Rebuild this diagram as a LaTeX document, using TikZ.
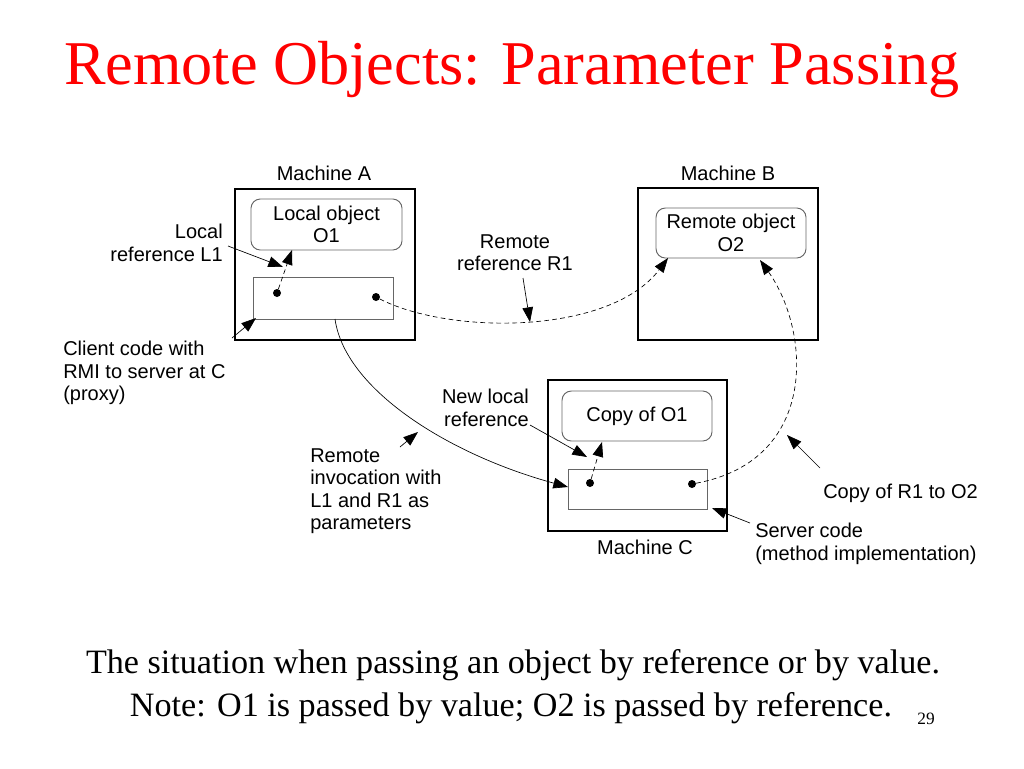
\documentclass[tikz,border=0pt]{standalone}
\usepackage{fontspec}
\setmainfont{Liberation Serif}
\newfontfamily\arial{Liberation Sans}
\usetikzlibrary{arrows.meta,fit}
\begin{document}
\begin{tikzpicture}[x=0.75pt,y=-0.75pt,
  machine/.style={draw, line width=2.2pt, inner sep=0pt},
  objbox/.style={draw=black!60, rounded corners=7pt, line width=0.7pt, inner sep=0pt, align=center},
  codebox/.style={draw=black!60, line width=0.7pt, inner sep=0pt},
  lbl/.style={font=\arial\fontsize{15}{16.8}\selectfont, inner sep=0pt},
  refdot/.style={circle, fill=black, inner sep=0pt, minimum size=6pt},
  tipped/.style={-{Triangle[length=11pt,width=8pt]}},
  ptr/.style={tipped, dash pattern=on 3.5pt off 2.5pt, line width=0.5pt},
  call/.style={tipped, line width=0.5pt},
  note/.style={tipped, line width=0.5pt},
]
\useasboundingbox (0,0) rectangle (1024,768);

% title and caption
\node[text=red, font=\fontsize{46.7}{52}\selectfont, inner sep=0pt] (title) at (512,70) {Remote Objects: Parameter Passing};
\node[font=\fontsize{25.6}{30}\selectfont, inner sep=0pt] (cap1) at (513,665) {The situation when passing an object by reference or by value.};
\node[font=\fontsize{25.6}{30}\selectfont, inner sep=0pt] (cap2) at (511,708) {Note: O1 is passed by value; O2 is passed by reference.};
\node[font=\fontsize{13}{15}\selectfont, inner sep=0pt] (pgno) at (926,719) {29};

% machine A
\node[machine, fit={(235,189) (415,340)}] (mA) {};
\node[objbox, fit={(251,199) (402,250)}] (o1) {};
\node[lbl, align=center] (o1t) at (o1.center) {Local object\\O1};
\node[codebox, fit={(253,277) (393,319)}] (cA) {};
\node[refdot] (dA1) at (277,293) {};
\node[refdot] (dA2) at (376,297) {};
\node[lbl] (mAl) at (324,173) {Machine A};

% machine B
\node[machine, fit={(638,188) (818,340)}] (mB) {};
\node[objbox, fit={(656,208) (806,258)}] (o2) {};
\node[lbl, align=center] (o2t) at (o2.center) {Remote object\\O2};
\node[lbl] (mBl) at (728,173) {Machine B};

% machine C
\node[machine, fit={(548,380) (727,531)}] (mC) {};
\node[objbox, fit={(562,391) (712,441)}] (o1c) {};
\node[lbl] (o1ct) at (o1c.center) {Copy of O1};
\node[codebox, fit={(568,469) (707,509)}] (cC) {};
\node[refdot] (dC1) at (590,483) {};
\node[refdot] (dC2) at (692,484) {};
\node[lbl] (mCl) at (645,547) {Machine C};

% references
\coordinate (o1hit) at (292,250);
\coordinate (o2hitA) at (668,258);
\coordinate (o2hitC) at (760,260);
\coordinate (o1chit) at (602,442);
\draw[ptr] (dA1) -- (o1hit);
\draw[ptr] (dC1) -- (o1chit);
\draw[ptr] (dA2) .. controls (450,335) and (610,335) .. (o2hitA);
\draw[ptr] (dC2) .. controls (820,460) and (810,330) .. (o2hitC);

% remote invocation
\coordinate (cAbot) at (335,319);
\coordinate (cCleft) at (568,487);
\draw[call] (cAbot) .. controls (345,390) and (450,455) .. (cCleft);

% labels
\node[lbl, align=right, anchor=east] (lL1) at (223,243) {Local\\reference L1};
\node[lbl, align=center] (lR1) at (515,253) {Remote\\reference R1};
\node[lbl, align=left, anchor=west] (lcl) at (63,373) {Client code with\\RMI to server at C\\(proxy)};
\node[lbl, align=right, anchor=east] (lnl) at (529,408) {New local\\reference};
\node[lbl, align=left, anchor=west] (lri) at (310,491) {Remote\\invocation with\\L1 and R1 as\\parameters};
\node[lbl, anchor=west] (lcp) at (823,493) {Copy of R1 to O2};
\node[lbl, align=left, anchor=west] (lsc) at (755,544) {Server code\\(method implementation)};

% label pointers
\coordinate (pL1s) at (228,246);   \coordinate (pL1e) at (283,267);
\coordinate (pcls) at (232,338);   \coordinate (pcle) at (256,318);
\coordinate (pR1s) at (523,278);   \coordinate (pR1e) at (530,322);
\coordinate (pnls) at (530,425);   \coordinate (pnle) at (587,457);
\coordinate (pris) at (400,447);   \coordinate (prie) at (418,432);
\coordinate (pcps) at (820,468);   \coordinate (pcpe) at (787,435);
\coordinate (pscs) at (750,523);   \coordinate (psce) at (712,508);
\draw[note] (pL1s) -- (pL1e);
\draw[note] (pcls) -- (pcle);
\draw[note] (pR1s) -- (pR1e);
\draw[note] (pnls) -- (pnle);
\draw[note] (pris) -- (prie);
\draw[note] (pcps) -- (pcpe);
\draw[note] (pscs) -- (psce);
\end{tikzpicture}
\end{document}
